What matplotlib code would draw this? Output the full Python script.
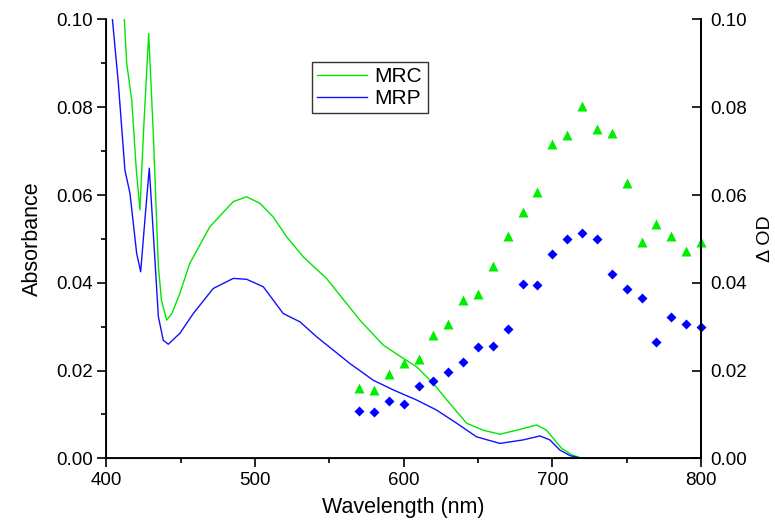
import matplotlib
matplotlib.use('Agg')
import matplotlib.pyplot as plt
from matplotlib.ticker import MultipleLocator

plt.rcParams['font.family'] = ['Liberation Sans', 'DejaVu Sans']

# absorbance spectra
mrc_wl = [412, 413.6, 417, 420, 422.5, 425, 428.4, 431.5, 434.9, 437, 440.5, 444, 449.4, 456,
          469.6, 485.3, 494.3, 503.3, 512.2, 521.2, 532.4, 548, 561.5, 570.5, 586.2, 599.6,
          608.6, 619.8, 631, 642.3, 653.5, 664.7, 675.9, 689.4, 696.1, 706.2, 713, 720, 760, 800]
mrc_abs = [0.100, 0.090, 0.0816, 0.066, 0.0566, 0.075, 0.0968, 0.074, 0.0437, 0.036, 0.0315,
           0.033, 0.0376, 0.0444, 0.0528, 0.0585, 0.0596, 0.0581, 0.0550, 0.0505, 0.0459,
           0.0410, 0.0353, 0.0315, 0.0258, 0.0228, 0.0209, 0.0171, 0.0125, 0.0080, 0.0064,
           0.0055, 0.0064, 0.0076, 0.0064, 0.0023, 0.0008, 0.0, 0.0, 0.0]

mrp_wl = [404, 408, 412.4, 415.8, 420.3, 423, 426, 428.8, 431.5, 434.9, 438.2, 441.6, 449.4,
          458.4, 471.8, 485.3, 494.3, 505.5, 518.9, 530.2, 541.4, 563.8, 579.5, 592.9, 608.6,
          622.1, 635.6, 649, 664.7, 680.4, 691.6, 698.3, 705, 712, 720, 760, 800]
mrp_abs = [0.100, 0.0854, 0.0657, 0.0604, 0.0467, 0.0425, 0.055, 0.0661, 0.0513, 0.0323,
           0.0269, 0.0260, 0.0285, 0.0330, 0.0387, 0.0410, 0.0408, 0.0391, 0.0330, 0.0311,
           0.0277, 0.0216, 0.0178, 0.0156, 0.0133, 0.0110, 0.0080, 0.0049, 0.0034, 0.0042,
           0.0051, 0.0042, 0.0019, 0.0006, 0.0, 0.0, 0.0]

# delta OD points
dod_wl = list(range(570, 801, 10))
dod_mrc = [0.0160, 0.0155, 0.0192, 0.0218, 0.0227, 0.0282, 0.0305, 0.0361, 0.0375, 0.0439,
           0.0506, 0.0562, 0.0607, 0.0716, 0.0737, 0.0803, 0.0751, 0.0742, 0.0628, 0.0493,
           0.0534, 0.0506, 0.0473, 0.0493]
dod_mrp = [0.0108, 0.0106, 0.0131, 0.0124, 0.0165, 0.0176, 0.0197, 0.0219, 0.0253, 0.0257,
           0.0294, 0.0397, 0.0395, 0.0466, 0.0500, 0.0513, 0.0499, 0.0421, 0.0386, 0.0365,
           0.0266, 0.0321, 0.0307, 0.0300]

fig = plt.figure(figsize=(7.75, 5.27), dpi=100)
ax = fig.add_axes([0.1374, 0.1303, 0.7671, 0.8327])

ax.plot(mrc_wl, mrc_abs, color='#00e600', lw=1, label='MRC')
ax.plot(mrp_wl, mrp_abs, color='#1010ff', lw=1, label='MRP')

ax.set_xlim(400, 800)
ax.set_ylim(0, 0.10)
ax.xaxis.set_major_locator(MultipleLocator(100))
ax.xaxis.set_minor_locator(MultipleLocator(50))
ax.yaxis.set_major_locator(MultipleLocator(0.02))
ax.yaxis.set_minor_locator(MultipleLocator(0.01))
ax.yaxis.set_major_formatter(matplotlib.ticker.FormatStrFormatter('%.2f'))
ax.tick_params(which='major', direction='out', length=6.5, width=1.2, labelsize=13.5, pad=3)
ax.tick_params(which='minor', direction='out', length=3.5, width=1.2)
ax.spines['top'].set_visible(False)
for s in ['left', 'bottom', 'right']:
    ax.spines[s].set_linewidth(1.3)
ax.set_xlabel('Wavelength (nm)', fontsize=15.5, labelpad=6)
ax.set_ylabel('Absorbance', fontsize=15.5, labelpad=10)

leg = ax.legend(loc='upper left', bbox_to_anchor=(0.346, 0.904), fontsize=15, frameon=True,
                fancybox=False, edgecolor='black', handlelength=2.4, handletextpad=0.35,
                borderpad=0.25, labelspacing=0.15, borderaxespad=0)
leg.get_frame().set_linewidth(1.0)

ax2 = ax.twinx()
ax2.plot(dod_wl, dod_mrc, '^', color='#00ee00', ms=7, mec='none', clip_on=False)
ax2.plot(dod_wl, dod_mrp, 'D', color='#0000ff', ms=5.5, mec='none', clip_on=False)
ax2.set_ylim(0, 0.10)
ax2.yaxis.set_major_locator(MultipleLocator(0.02))
ax2.yaxis.set_major_formatter(matplotlib.ticker.FormatStrFormatter('%.2f'))
ax2.tick_params(which='major', direction='in', length=6.5, width=1.2, labelsize=13.5, pad=7)
ax2.spines['top'].set_visible(False)
ax2.spines['right'].set_linewidth(1.3)
ax2.set_ylabel('\u0394 OD', fontsize=14, rotation=90, va='center', ha='center')
ax2.yaxis.set_label_coords(1.108, 0.5)

fig.savefig('out.png', dpi=100)
